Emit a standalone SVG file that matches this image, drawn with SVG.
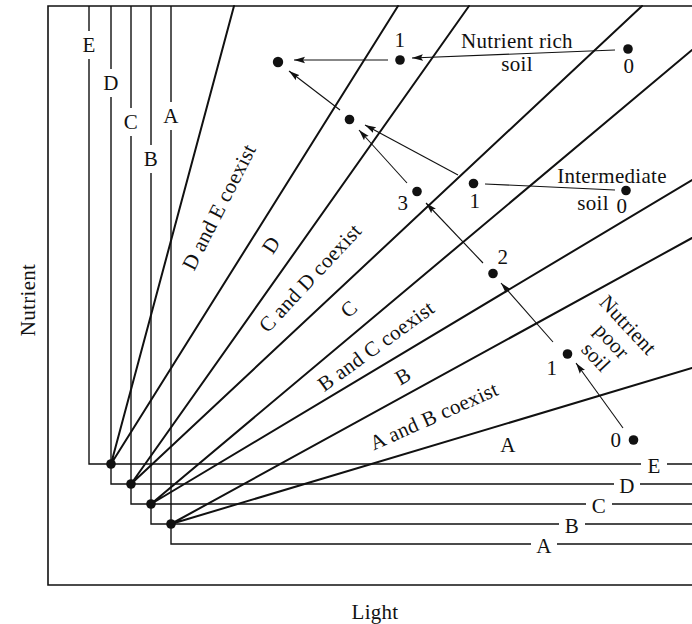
<svg xmlns="http://www.w3.org/2000/svg" width="692" height="624" viewBox="0 0 692 624">
  <style>
    text { font-family: "Liberation Serif", "Times New Roman", serif; font-size: 21px; letter-spacing: 0.3px; fill: #111; }
    .mid { text-anchor: middle; }
    .ctr { text-anchor: middle; dominant-baseline: central; }
    .frame { fill: none; stroke: #111; stroke-width: 1.6; }
    .iso { fill: none; stroke: #111; stroke-width: 1.4; }
    .bound { fill: none; stroke: #111; stroke-width: 2; stroke-linecap: round; }
    .traj { fill: none; stroke: #111; stroke-width: 1.1; }
    .dot { fill: #111; }
  </style>
  <defs>
    <marker id="head" markerUnits="userSpaceOnUse" markerWidth="12" markerHeight="8" viewBox="0 0 12 8" refX="11" refY="4" orient="auto">
      <path d="M0,0.8 L11,4 L0,7.2 L2,4 Z" fill="#111"/>
    </marker>
  </defs>

  <!-- plot frame -->
  <g id="frame">
    <path class="frame" d="M692,6 H48 V585 H692"/>
  </g>

  <!-- zero net growth isoclines of species A to E -->
  <g id="isoclines">
    <path class="iso" d="M89,6 V31 M89,59 V464 H641 M667,464 H692"/>
    <path class="iso" d="M111,6 V69 M111,97 V484 H614 M640,484 H692"/>
    <path class="iso" d="M131,6 V108 M131,136 V504 H586 M612,504 H692"/>
    <path class="iso" d="M151,6 V145 M151,173 V524 H559 M585,524 H692"/>
    <path class="iso" d="M171,6 V102 M171,130 V544 H531 M557,544 H692"/>
    <text class="mid" x="89" y="52">E</text>
    <text class="mid" x="111" y="90">D</text>
    <text class="mid" x="131" y="129">C</text>
    <text class="mid" x="151" y="166">B</text>
    <text class="mid" x="171" y="123">A</text>
    <text class="mid" x="654" y="473">E</text>
    <text class="mid" x="627" y="493">D</text>
    <text class="mid" x="599" y="513">C</text>
    <text class="mid" x="572" y="533">B</text>
    <text class="mid" x="544" y="553">A</text>
  </g>

  <!-- two-species equilibria and consumption boundaries -->
  <g id="boundaries">
    <path class="bound" d="M111,464 L234,6 M111,464 L398,6"/>
    <path class="bound" d="M131,484 L469,6 M131,484 L642,6"/>
    <path class="bound" d="M151,504 L692,50 M151,504 L692,180"/>
    <path class="bound" d="M171,524 L692,238 M171,524 L692,368"/>
    <circle class="dot" cx="111" cy="464" r="4.8"/>
    <circle class="dot" cx="131" cy="484" r="4.8"/>
    <circle class="dot" cx="151" cy="504" r="4.8"/>
    <circle class="dot" cx="171" cy="524" r="4.8"/>
  </g>

  <!-- region labels -->
  <g id="regions">
    <text class="ctr" transform="translate(219,207) rotate(-63)">D and E coexist</text>
    <text class="ctr" transform="translate(271,245) rotate(-57)">D</text>
    <text class="ctr" transform="translate(310,278) rotate(-47)">C and D coexist</text>
    <text class="ctr" transform="translate(349,309) rotate(-42)">C</text>
    <text class="ctr" transform="translate(376,346) rotate(-36)">B and C coexist</text>
    <text class="ctr" transform="translate(403,376) rotate(-30)">B</text>
    <text class="ctr" transform="translate(434,416) rotate(-24)">A and B coexist</text>
    <text class="mid" x="508" y="452">A</text>
  </g>

  <!-- succession trajectories -->
  <g id="connectors">
    <path class="traj" marker-end="url(#head)" d="M615,50 L412,58"/>
    <path class="traj" marker-end="url(#head)" d="M388,60 L294,60"/>
    <path class="traj" marker-end="url(#head)" d="M340,110 L289,71"/>
    <path class="traj" marker-end="url(#head)" d="M407,183 L359,130"/>
    <path class="traj" marker-end="url(#head)" d="M458,175 L365,125"/>
    <path class="traj" d="M485,184 L615,190"/>
    <path class="traj" marker-end="url(#head)" d="M483,263 L426,203"/>
    <path class="traj" marker-end="url(#head)" d="M553,342 L501,283"/>
    <path class="traj" marker-end="url(#head)" d="M623,428 L576,363"/>
  </g>

  <!-- nutrient rich soil -->
  <g id="rich">
    <circle class="dot" cx="628" cy="49" r="4.8"/>
    <circle class="dot" cx="400" cy="60" r="4.8"/>
    <circle class="dot" cx="278" cy="62" r="5.2"/>
    <text class="mid" x="629" y="73">0</text>
    <text class="mid" x="400" y="47">1</text>
    <text class="mid" x="517" y="47.5">Nutrient rich</text>
    <text class="mid" x="517" y="71">soil</text>
  </g>

  <!-- intermediate soil -->
  <g id="intermediate">
    <circle class="dot" cx="626" cy="190.5" r="4.8"/>
    <circle class="dot" cx="473.5" cy="183.5" r="4.8"/>
    <circle class="dot" cx="417" cy="191.5" r="4.8"/>
    <circle class="dot" cx="349.5" cy="119.5" r="4.8"/>
    <text class="mid" x="622" y="213">0</text>
    <text class="mid" x="475" y="208">1</text>
    <text class="mid" x="403" y="210">3</text>
    <text class="mid" x="612" y="183">Intermediate</text>
    <text class="mid" x="593" y="210">soil</text>
  </g>

  <!-- nutrient poor soil -->
  <g id="poor">
    <circle class="dot" cx="633.5" cy="440" r="4.8"/>
    <circle class="dot" cx="567.5" cy="354" r="4.8"/>
    <circle class="dot" cx="493" cy="273.5" r="4.8"/>
    <text class="mid" x="616" y="447">0</text>
    <text class="mid" x="552" y="375">1</text>
    <text class="mid" x="503" y="264">2</text>
    <text class="ctr" transform="translate(628,325) rotate(47)">Nutrient</text>
    <text class="ctr" transform="translate(612,341) rotate(47)">poor</text>
    <text class="ctr" transform="translate(596,357) rotate(47)">soil</text>
  </g>

  <!-- axis titles -->
  <g id="axes">
    <text class="mid" x="375" y="619">Light</text>
    <text class="mid" transform="translate(35,300) rotate(-90)">Nutrient</text>
  </g>
</svg>
